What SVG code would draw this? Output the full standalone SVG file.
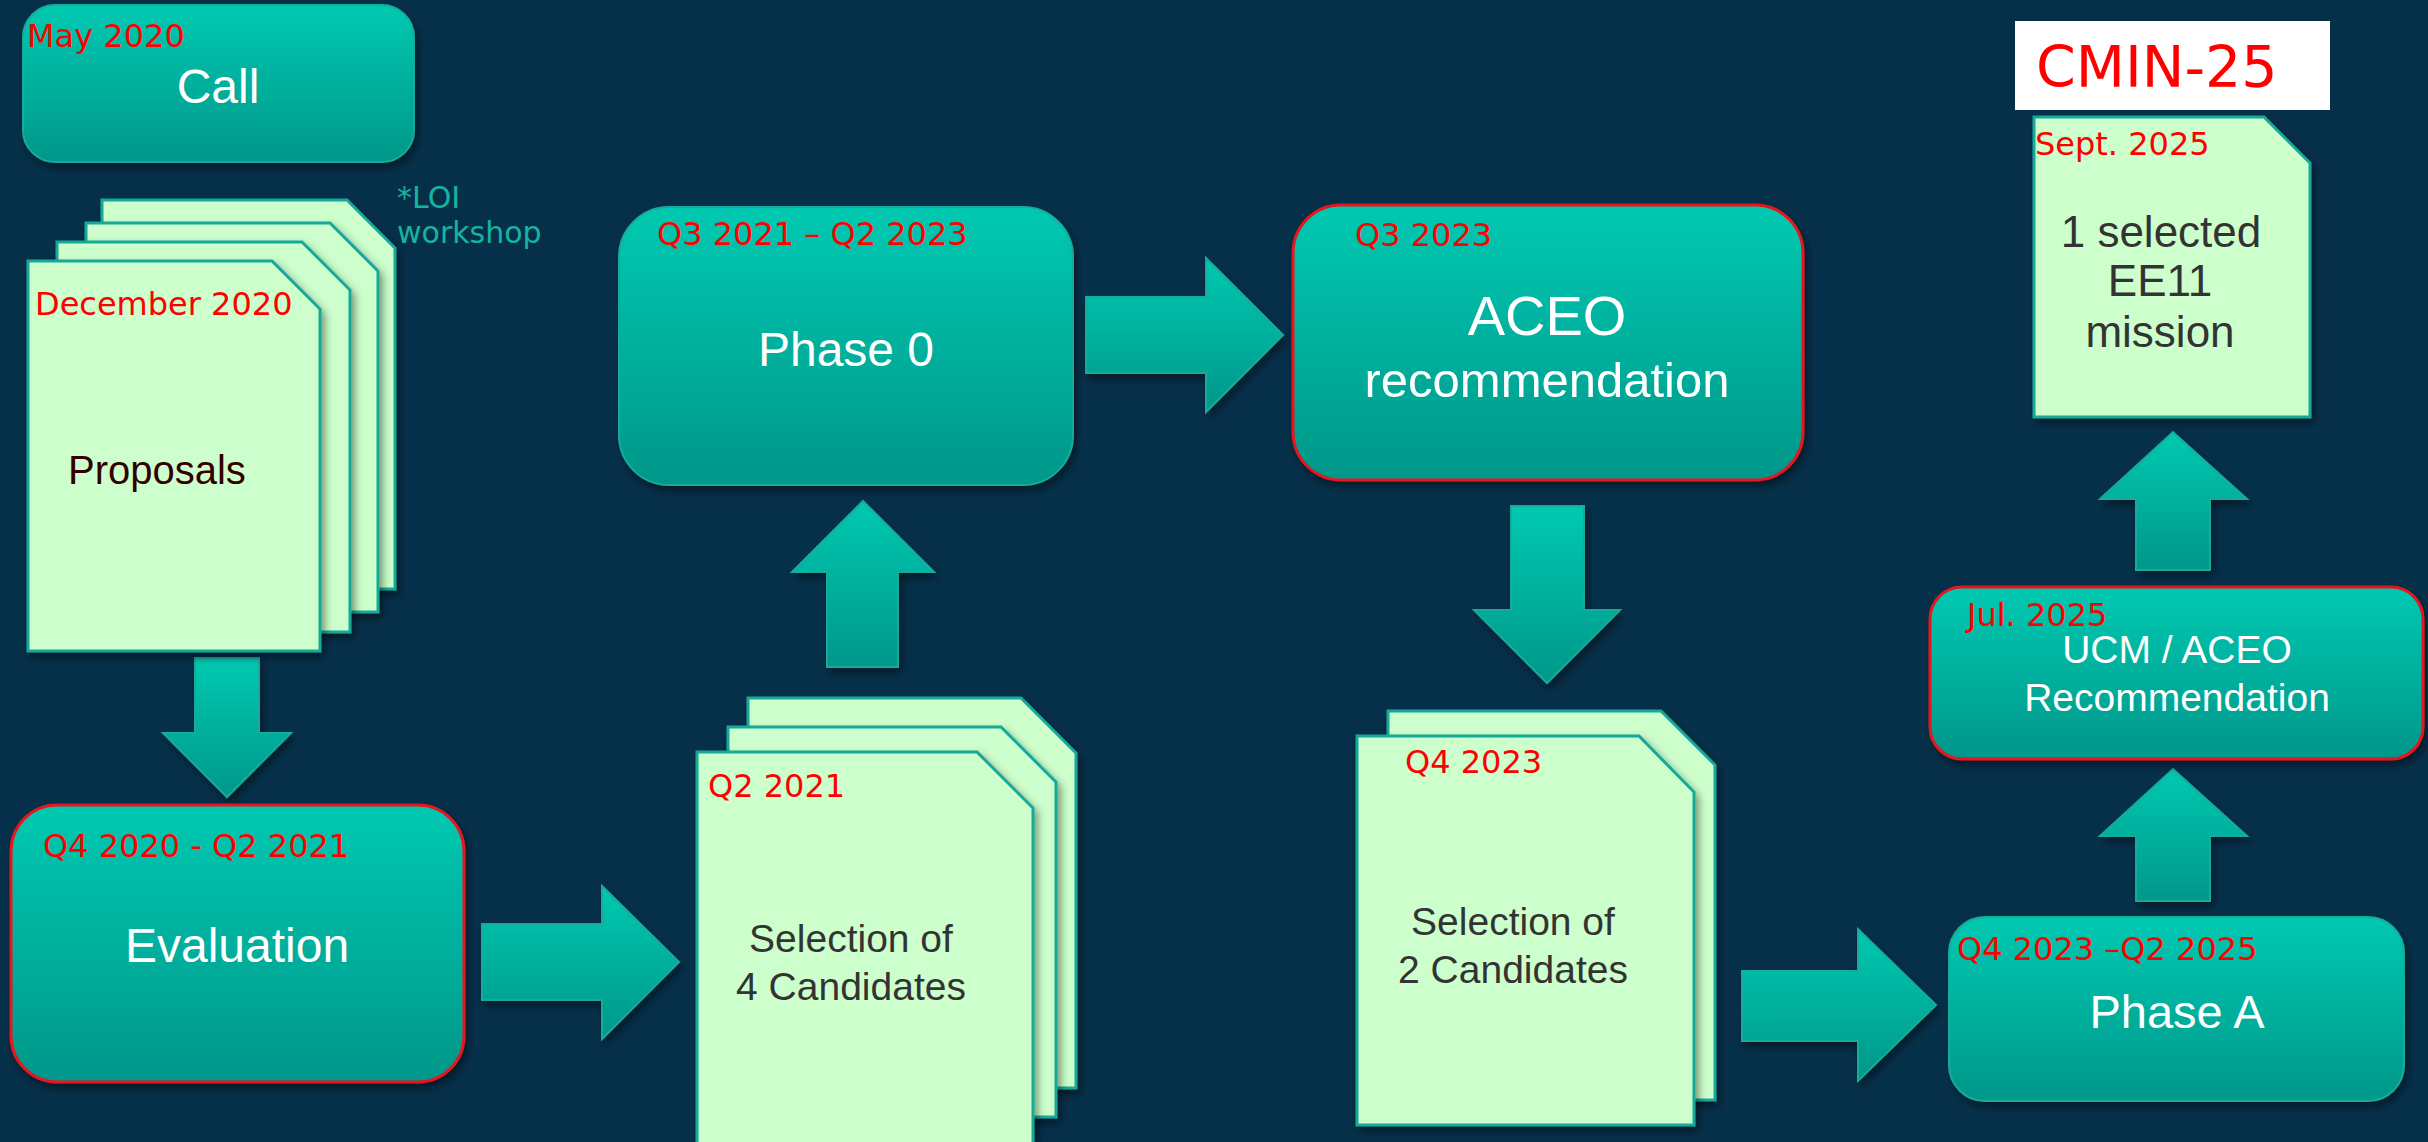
<svg xmlns="http://www.w3.org/2000/svg" width="2428" height="1142" viewBox="0 0 2428 1142">
<defs>
<linearGradient id="tealGrad" x1="0" y1="0" x2="0" y2="1">
<stop offset="0" stop-color="#00c9b1"/>
<stop offset="1" stop-color="#00978a"/>
</linearGradient>
<filter id="shadow" x="-10%" y="-10%" width="125%" height="125%">
<feDropShadow dx="3" dy="5" stdDeviation="4" flood-color="#000000" flood-opacity="0.45"/>
</filter>
<style>
.box{fill:url(#tealGrad);stroke:#17ab9b;stroke-width:2;filter:url(#shadow)}
.boxr{fill:url(#tealGrad);stroke:#e8141e;stroke-width:3;filter:url(#shadow)}
.page{fill:#ccffcc;stroke:#13a898;stroke-width:3;filter:url(#shadow)}
.arrow{fill:url(#tealGrad);stroke:#17ab9b;stroke-width:2;filter:url(#shadow)}
.date{font-family:"DejaVu Sans",Verdana,sans-serif;font-size:32px;fill:#ff0000}
.wt{font-family:"Liberation Sans",Arial,sans-serif;fill:#ffffff;text-anchor:middle}
.dk{font-family:"Liberation Sans",Arial,sans-serif;fill:#333333;text-anchor:middle}
</style>
</defs>
<rect x="0" y="0" width="2428" height="1142" fill="#06304a"/>

<g id="connectors">
<path class="arrow" d="M195,658 H259 V733 H291 L227,797 L163,733 H195 Z"/>
<path class="arrow" d="M482,924 H602 V886 L679,962 L602,1039 V1000 H482 Z"/>
<path class="arrow" d="M827,667 V572 H792 L863,501 L934,572 H898 V667 Z"/>
<path class="arrow" d="M1086,297 H1206 V258 L1283,335 L1206,412 V373 H1086 Z"/>
<path class="arrow" d="M1511,506 H1584 V610 H1620 L1547,683 L1474,610 H1511 Z"/>
<path class="arrow" d="M1742,971 H1858 V929 L1936,1005 L1858,1081 V1041 H1742 Z"/>
<path class="arrow" d="M2136,901 V836 H2100 L2173,769 L2247,836 H2210 V901 Z"/>
<path class="arrow" d="M2136,570 V499 H2100 L2173,432 L2247,499 H2210 V570 Z"/>
</g>

<g id="call">
<rect class="box" x="23" y="5" width="391" height="157" rx="32"/>
<text class="date" x="27" y="47">May 2020</text>
<text class="wt" x="218" y="103" font-size="48">Call</text>
</g>

<g id="proposals">
<path class="page" d="M102,200 H347 L395,248 V589 H102 Z"/>
<path class="page" d="M86,223 H330 L378,271 V612 H86 Z"/>
<path class="page" d="M57,242 H302 L350,290 V632 H57 Z"/>
<path class="page" d="M28,261 H272 L320,309 V651 H28 Z"/>
<text class="date" x="35" y="315">December 2020</text>
<text x="68" y="484" font-family="Liberation Sans, Arial, sans-serif" font-size="40" fill="#330000">Proposals</text>
</g>

<g id="loi">
<text x="397" y="208" font-family="DejaVu Sans, Verdana, sans-serif" font-size="30" fill="#17b3a0">*LOI</text>
<text x="397" y="243" font-family="DejaVu Sans, Verdana, sans-serif" font-size="30" fill="#17b3a0">workshop</text>
</g>

<g id="evaluation">
<rect class="boxr" x="11" y="805" width="453" height="277" rx="46"/>
<text class="date" x="43" y="857">Q4 2020 - Q2 2021</text>
<text class="wt" x="237" y="962" font-size="48">Evaluation</text>
</g>

<g id="selection4">
<path class="page" d="M748,698 H1021 L1076,753 V1088 H748 Z"/>
<path class="page" d="M728,727 H1001 L1056,782 V1117 H728 Z"/>
<path class="page" d="M697,752 H977 L1033,808 V1160 H697 Z"/>
<text class="date" x="708" y="797">Q2 2021</text>
<text class="dk" x="851" y="952" font-size="39">Selection of</text>
<text class="dk" x="851" y="1000" font-size="39">4 Candidates</text>
</g>

<g id="phase0">
<rect class="box" x="619" y="207" width="454" height="278" rx="50"/>
<text class="date" x="657" y="245">Q3 2021 – Q2 2023</text>
<text class="wt" x="846" y="366" font-size="48">Phase 0</text>
</g>

<g id="aceo">
<rect class="boxr" x="1293" y="205" width="510" height="275" rx="48"/>
<text class="date" x="1355" y="246">Q3 2023</text>
<text class="wt" x="1547" y="335" font-size="56">ACEO</text>
<text class="wt" x="1547" y="397" font-size="49">recommendation</text>
</g>

<g id="selection2">
<path class="page" d="M1388,711 H1661 L1715,765 V1100 H1388 Z"/>
<path class="page" d="M1357,736 H1639 L1694,792 V1125 H1357 Z"/>
<text class="date" x="1405" y="773">Q4 2023</text>
<text class="dk" x="1513" y="935" font-size="39">Selection of</text>
<text class="dk" x="1513" y="983" font-size="39">2 Candidates</text>
</g>

<g id="phaseA">
<rect class="box" x="1949" y="917" width="455" height="184" rx="36"/>
<text class="date" x="1957" y="960">Q4 2023 –Q2 2025</text>
<text class="wt" x="2177" y="1028" font-size="47">Phase A</text>
</g>

<g id="ucm">
<rect class="boxr" x="1930" y="587" width="493" height="172" rx="32"/>
<text class="date" x="1967" y="626">Jul. 2025</text>
<text class="wt" x="2177" y="663" font-size="39">UCM / ACEO</text>
<text class="wt" x="2177" y="711" font-size="39">Recommendation</text>
</g>

<g id="cmin">
<rect x="2015" y="21" width="315" height="89" fill="#ffffff"/>
<text x="2036" y="87" font-family="DejaVu Sans, Verdana, sans-serif" font-size="57" fill="#ff0000">CMIN-25</text>
</g>

<g id="selected">
<path class="page" d="M2034,117 H2264 L2310,163 V417 H2034 Z"/>
<text class="date" x="2035" y="155">Sept. 2025</text>
<text class="dk" x="2161" y="247" font-size="44">1  selected</text>
<text class="dk" x="2160" y="296" font-size="44">EE11</text>
<text class="dk" x="2160" y="347" font-size="44">mission</text>
</g>
</svg>
